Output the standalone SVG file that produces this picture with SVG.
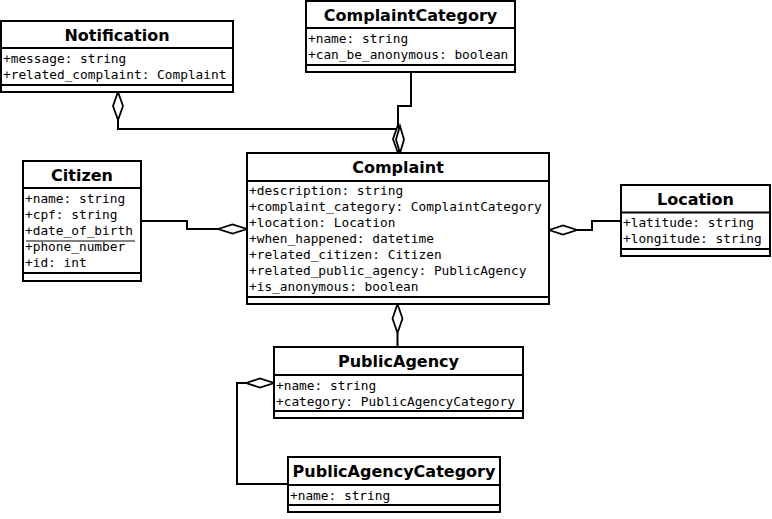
<svg xmlns="http://www.w3.org/2000/svg" width="772" height="519" viewBox="0 0 772 519">
<style>
.box{fill:#fff;stroke:#000;stroke-width:2}
.sep{stroke:#000;stroke-width:2}
.hd{font-family:"DejaVu Sans",sans-serif;font-weight:bold;font-size:16px;text-anchor:middle;fill:#000}
.at{font-family:"DejaVu Sans Mono",monospace;font-size:12.8px;fill:#000}
.ln{fill:none;stroke:#000;stroke-width:2}
.dm{fill:#fff;stroke:#000;stroke-width:1.8}
</style>
<rect width="772" height="519" fill="#fff"/>
<g id="connectors">
<path class="ln" d="M118,120 V129 H397"/>
<path class="ln" d="M411,72 V106 H398 V126"/>
<path class="ln" d="M141,221 H187 V229 H218"/>
<path class="ln" d="M577,230 H592 V221 H621"/>
<path class="ln" d="M397.5,333 V347"/>
<path class="ln" d="M246,383 H237 V484 H288"/>
<path class="dm" d="M118,92 L123,106 L118,120 L113,106 Z"/>
<path class="dm" d="M398,125 L403,139 L398,153 L393,139 Z"/>
<path class="dm" d="M400,126 L404,139.5 L400,153 L396,139.5 Z"/>
<path class="dm" d="M218,229 L232.5,224.5 L247,229 L232.5,233.5 Z"/>
<path class="dm" d="M549,230 L563,225.5 L577,230 L563,234.5 Z"/>
<path class="dm" d="M397.5,304 L402.5,318.5 L397.5,333 L392.5,318.5 Z"/>
<path class="dm" d="M246,383 L260,378.5 L274,383 L260,387.5 Z"/>
</g>
<g id="Notification">
<rect class="box" x="1" y="21" width="232" height="71"/>
<line class="sep" x1="1" y1="48" x2="233" y2="48"/>
<line class="sep" x1="1" y1="85" x2="233" y2="85"/>
<text class="hd" x="117" y="40.5">Notification</text>
<text class="at" x="3" y="62.5">+message: string</text>
<text class="at" x="3" y="78.5">+related_complaint: Complaint</text>
</g>
<g id="ComplaintCategory">
<rect class="box" x="306" y="1" width="209" height="71"/>
<line class="sep" x1="306" y1="28" x2="515" y2="28"/>
<line class="sep" x1="306" y1="65" x2="515" y2="65"/>
<text class="hd" x="410.5" y="20.5">ComplaintCategory</text>
<text class="at" x="308" y="42.5">+name: string</text>
<text class="at" x="308" y="58.5">+can_be_anonymous: boolean</text>
</g>
<g id="Citizen">
<rect class="box" x="23" y="161" width="118" height="120"/>
<line class="sep" x1="23" y1="188" x2="141" y2="188"/>
<line class="sep" x1="23" y1="273" x2="141" y2="273"/>
<line x1="26" y1="241" x2="135" y2="241" stroke="#000" stroke-width="1"/>
<text class="hd" x="82" y="180.5">Citizen</text>
<text class="at" x="25" y="202.5">+name: string</text>
<text class="at" x="25" y="218.5">+cpf: string</text>
<text class="at" x="25" y="234.5">+date_of_birth</text>
<text class="at" x="25" y="250.5">+phone_number</text>
<text class="at" x="25" y="266.5">+id: int</text>
</g>
<g id="Complaint">
<rect class="box" x="247" y="153" width="302" height="151"/>
<line class="sep" x1="247" y1="181" x2="549" y2="181"/>
<line class="sep" x1="247" y1="297" x2="549" y2="297"/>
<text class="hd" x="398" y="172.5">Complaint</text>
<text class="at" x="249" y="195">+description: string</text>
<text class="at" x="249" y="211">+complaint_category: ComplaintCategory</text>
<text class="at" x="249" y="227">+location: Location</text>
<text class="at" x="249" y="243">+when_happened: datetime</text>
<text class="at" x="249" y="259">+related_citizen: Citizen</text>
<text class="at" x="249" y="275">+related_public_agency: PublicAgency</text>
<text class="at" x="249" y="291">+is_anonymous: boolean</text>
</g>
<g id="Location">
<rect class="box" x="621" y="185" width="149" height="71"/>
<line class="sep" x1="621" y1="212.5" x2="770" y2="212.5"/>
<line class="sep" x1="621" y1="249" x2="770" y2="249"/>
<text class="hd" x="695.5" y="204.5">Location</text>
<text class="at" x="623" y="227">+latitude: string</text>
<text class="at" x="623" y="243">+longitude: string</text>
</g>
<g id="PublicAgency">
<rect class="box" x="274" y="347" width="249" height="71"/>
<line class="sep" x1="274" y1="375" x2="523" y2="375"/>
<line class="sep" x1="274" y1="411" x2="523" y2="411"/>
<text class="hd" x="398.5" y="366.5">PublicAgency</text>
<text class="at" x="276" y="389.5">+name: string</text>
<text class="at" x="276" y="405.5">+category: PublicAgencyCategory</text>
</g>
<g id="PublicAgencyCategory">
<rect class="box" x="288" y="457" width="212" height="55"/>
<line class="sep" x1="288" y1="485" x2="500" y2="485"/>
<line class="sep" x1="288" y1="505" x2="500" y2="505"/>
<text class="hd" x="394" y="476.5">PublicAgencyCategory</text>
<text class="at" x="290" y="499.5">+name: string</text>
</g>
</svg>
